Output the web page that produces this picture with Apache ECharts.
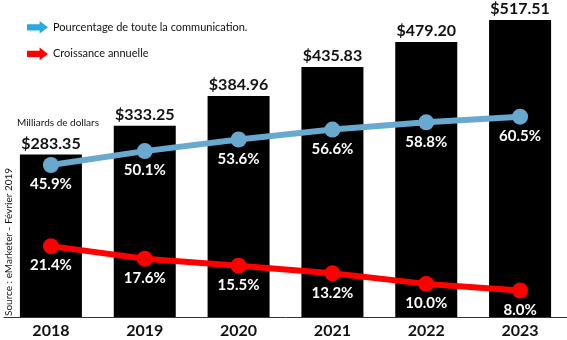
<!DOCTYPE html>
<html><head><meta charset="utf-8">
<script src="https://cdn.jsdelivr.net/npm/echarts@6/dist/echarts.min.js"></script>
<style>html,body{margin:0;padding:0;background:#fff}#c{width:567px;height:340px}</style>
</head><body><div id="c"></div>
<script>
var years = ['2018','2019','2020','2021','2022','2023'];
var revenue = [283.35, 333.25, 384.96, 435.83, 479.20, 517.51];
var shareOfComm = [45.9, 50.1, 53.6, 56.6, 58.8, 60.5];
var annualGrowth = [21.4, 17.6, 15.5, 13.2, 10.0, 8.0];
var shareName = 'Pourcentage de toute la communication.';
var growthName = 'Croissance annuelle';

var arrow = 'path://M0,3 L12,3 L12,0 L20,6 L12,12 L12,9 L0,9 Z';
var chart = echarts.init(document.getElementById('c'));
chart.setOption({
  animation: false,
  grid: {left: 4, right: -4, top: 20, bottom: 23, containLabel: false},
  legend: {
    orient: 'vertical', left: 22, top: 16, itemGap: 14,
    itemWidth: 21, itemHeight: 13,
    textStyle: {fontFamily: 'Lato', fontSize: 11, color: '#111'},
    data: [
      {name: shareName, icon: arrow, itemStyle: {color: '#2aa8e0'}},
      {name: growthName, icon: arrow, itemStyle: {color: '#ff0000'}}
    ]
  },
  xAxis: {
    type: 'category', data: years,
    axisLine: {show: true, lineStyle: {color: '#333', width: 1}},
    axisTick: {show: false},
    axisLabel: {fontFamily: 'Lato', fontWeight: 'bold', fontSize: 16, color: '#111', margin: 6}
  },
  yAxis: [
    {type: 'value', min: 0, max: 517.51, show: false, splitLine: {show: false}},
    {type: 'value', min: 0, max: 89.7, show: false, splitLine: {show: false}}
  ],
  series: [
    {
      type: 'bar', data: revenue, barWidth: 62, yAxisIndex: 0,
      itemStyle: {color: '#000'},
      label: {show: true, position: 'top', distance: 3, fontFamily: 'Lato', fontWeight: 'bold', fontSize: 16, color: '#111',
        formatter: function(p){ return '$' + p.value.toFixed(2); }}
    },
    {
      name: shareName, type: 'line', data: shareOfComm, yAxisIndex: 1,
      lineStyle: {color: '#69a9cf', width: 6}, itemStyle: {color: '#69a9cf'},
      symbol: 'circle', symbolSize: 16,
      label: {show: true, position: 'bottom', distance: 4, fontFamily: 'Lato', fontWeight: 'bold', fontSize: 15, color: '#fff',
        formatter: function(p){ return p.value.toFixed(1) + '%'; }}
    },
    {
      name: growthName, type: 'line', data: annualGrowth, yAxisIndex: 1,
      lineStyle: {color: '#ff0000', width: 6}, itemStyle: {color: '#ff0000'},
      symbol: 'circle', symbolSize: 16,
      label: {show: true, position: 'bottom', distance: 4, fontFamily: 'Lato', fontWeight: 'bold', fontSize: 15, color: '#fff',
        formatter: function(p){ return p.value.toFixed(1) + '%'; }}
    }
  ],
  graphic: [
    {type: 'text', left: 17, top: 118, style: {text: 'Milliards de dollars', fontFamily: 'Lato', fontSize: 10, fill: '#111'}},
    {type: 'text', x: 4, y: 316, rotation: Math.PI/2, style: {text: 'Source : eMarketer - Février 2019', fontFamily: 'Lato', fontSize: 10, fill: '#111', align: 'left', verticalAlign: 'top'}}
  ]
});
</script></body></html>
